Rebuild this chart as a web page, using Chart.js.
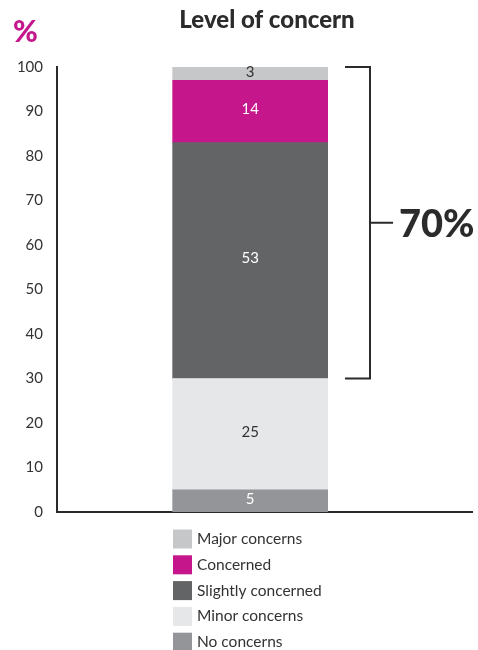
<!DOCTYPE html>
<html>
<head>
<meta charset="utf-8">
<script src="https://cdn.jsdelivr.net/npm/chart.js@4"></script>
<style>
  html, body { margin: 0; padding: 0; background: #fff; }
  #wrap { width: 478px; height: 650px; position: relative; }
</style>
</head>
<body>
<div id="wrap"><canvas id="chart-concern" width="478" height="650"></canvas></div>
<script>
// Level of concern - stacked bar, bottom to top
const seriesNames = ['No concerns', 'Minor concerns', 'Slightly concerned', 'Concerned', 'Major concerns'];
const seriesValues = [5, 25, 53, 14, 3];
const seriesColors = ['#939598', '#e6e7e9', '#636466', '#c5168c', '#c6c7c9'];
const labelColors = ['#ffffff', '#333333', '#ffffff', '#ffffff', '#333333'];
const yTicks = [0, 10, 20, 30, 40, 50, 60, 70, 80, 90, 100];
const bracketSeries = ['Slightly concerned', 'Concerned', 'Major concerns'];

const FONT = 'Lato, "Open Sans", sans-serif';
const INK = '#2b2b2b';

const segmentLabels = {
    id: 'segmentLabels',
    afterDatasetsDraw(chart) {
        const ctx = chart.ctx;
        ctx.save();
        ctx.font = '15px ' + FONT;
        ctx.textAlign = 'center';
        ctx.textBaseline = 'middle';
        chart.data.datasets.forEach((ds, i) => {
            const bar = chart.getDatasetMeta(i).data[0];
            const mid = (bar.y + bar.base) / 2;
            ctx.fillStyle = labelColors[i];
            ctx.fillText(String(ds.data[0].y), bar.x, mid - 2);
        });
        ctx.restore();
    },
};

const decorations = {
    id: 'decorations',
    afterDraw(chart) {
        const ctx = chart.ctx;
        const y = chart.scales.y;
        ctx.save();

        // title and unit
        ctx.fillStyle = INK;
        ctx.font = '900 24px ' + FONT;
        ctx.textAlign = 'center';
        ctx.textBaseline = 'middle';
        ctx.fillText('Level of concern', 267, 20);
        ctx.fillStyle = '#c5168c';
        ctx.font = '900 30px ' + FONT;
        ctx.textAlign = 'left';
        ctx.fillText('%', 13, 32);

        // bracket over the concerned groups
        let lo = 0;
        let total = 0;
        seriesNames.forEach((n, i) => {
            if (bracketSeries.includes(n)) total += seriesValues[i];
            else lo += seriesValues[i];
        });
        const top = y.getPixelForValue(lo + total);
        const bot = y.getPixelForValue(lo);
        const midY = (top + bot) / 2;
        ctx.strokeStyle = INK;
        ctx.lineWidth = 2;
        ctx.beginPath();
        ctx.moveTo(345, top);
        ctx.lineTo(370, top);
        ctx.lineTo(370, bot);
        ctx.lineTo(345, bot);
        ctx.moveTo(370, midY);
        ctx.lineTo(393, midY);
        ctx.stroke();
        ctx.fillStyle = INK;
        ctx.font = '900 38px ' + FONT;
        ctx.textBaseline = 'middle';
        ctx.fillText(total + '%', 399, midY + 2);

        // legend, top series first
        ctx.font = '15.5px ' + FONT;
        for (let k = 0; k < seriesNames.length; k++) {
            const i = seriesNames.length - 1 - k;
            const cy = 539 + k * 25.8;
            ctx.fillStyle = seriesColors[i];
            ctx.fillRect(173, cy - 9.5, 19, 19);
            ctx.fillStyle = '#333333';
            ctx.fillText(seriesNames[i], 197, cy);
        }
        ctx.restore();
    },
};

new Chart(document.getElementById('chart-concern'), {
    type: 'bar',
    data: {
        datasets: seriesNames.map((name, i) => ({
            label: name,
            data: [{ x: 4.62, y: seriesValues[i] }],
            backgroundColor: seriesColors[i],
            borderWidth: 0,
            barThickness: 155,
        })),
    },
    options: {
        responsive: false,
        animation: false,
        layout: { padding: { top: 67, right: 6, bottom: 138, left: 0 } },
        plugins: { legend: { display: false }, tooltip: { enabled: false } },
        scales: {
            x: {
                type: 'linear',
                min: 0,
                max: 10,
                stacked: true,
                ticks: { display: false },
                grid: { display: false, drawTicks: false },
                border: { display: true, color: INK, width: 2 },
                afterFit: s => { s.height = 0; },
            },
            y: {
                stacked: true,
                min: 0,
                max: 100,
                afterBuildTicks: s => { s.ticks = yTicks.map(v => ({ value: v })); },
                ticks: { color: '#333333', font: { family: FONT, size: 15 }, padding: 14 },
                grid: { display: false, drawTicks: false },
                border: { display: true, color: INK, width: 2 },
                afterFit: s => { s.width = 57; },
            },
        },
    },
    plugins: [segmentLabels, decorations],
});
</script>
</body>
</html>
